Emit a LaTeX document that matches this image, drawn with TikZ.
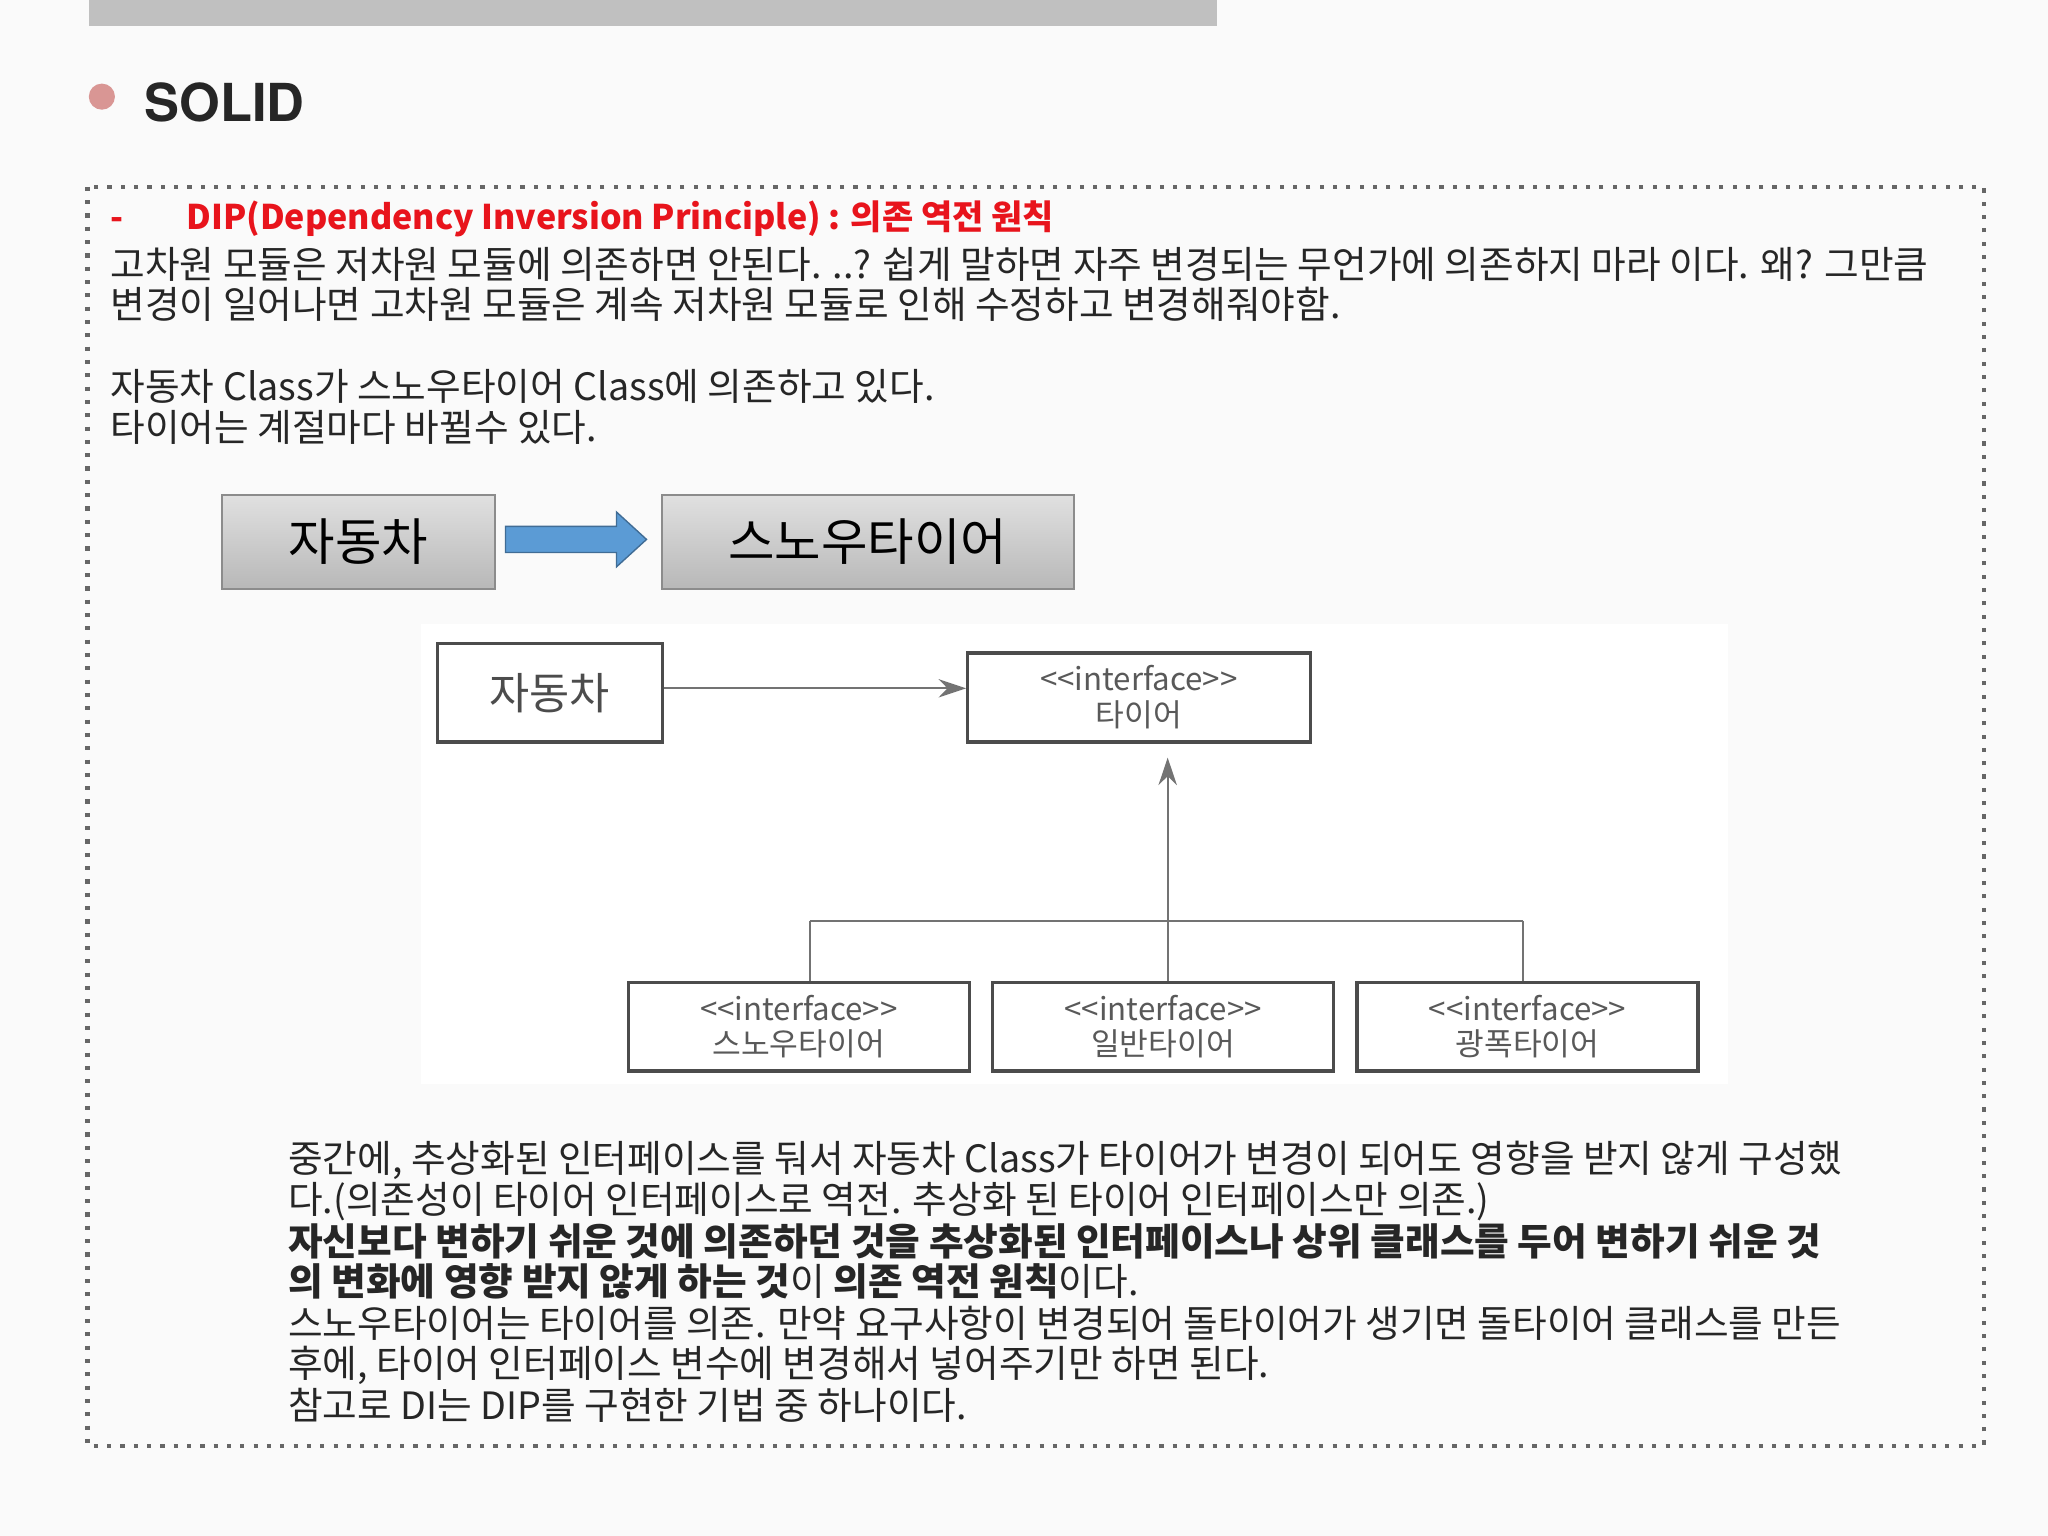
\documentclass[tikz,border=0pt]{standalone}
\usepackage{fontspec}
\setmainfont{Noto Sans CJK KR}
\newfontfamily\heros{TeX Gyre Heros}
\usetikzlibrary{arrows.meta}
\definecolor{barg}{HTML}{C0C0C0}
\definecolor{bul}{HTML}{D99694}
\definecolor{redt}{HTML}{E8141C}
\definecolor{arrb}{HTML}{5B9BD5}
\tikzset{
 txt/.style={anchor=base west,inner sep=0pt,font=\fontsize{8.2}{9}\selectfont,text=black!85},
 gbox/.style={draw=black!45,top color=black!12,bottom color=black!28,inner sep=0pt},
 uml/.style={draw=black!70,line width=0.7pt,fill=white,inner sep=0pt},
 umlt/.style={font=\fontsize{6.8}{7.8}\selectfont,text=black!65,align=center},
 conn/.style={draw=black!55,line width=0.4pt}
}
\begin{document}
\begin{tikzpicture}[x=0.01cm,y=-0.01cm]
\useasboundingbox (0,0) rectangle (1568,1176);
\fill[black!2] (0,0) rectangle (1568,1176);
\fill[barg] (68,0) rectangle (932,20);
\fill[bul] (78,74) circle (10);
\node[anchor=base west,inner sep=0pt,font=\heros\bfseries\fontsize{11.4}{12}\selectfont,text=black!85] (solid) at (110,93) {SOLID};
\draw[black!60,dotted,line width=0.9pt] (67,143) rectangle (1519,1107);
\node[txt,text=redt,font=\bfseries\fontsize{7.4}{8}\selectfont] (h0) at (84,176) {-};
\node[txt,text=redt,font=\bfseries\fontsize{7.4}{8}\selectfont] (h1) at (142,176) {DIP(Dependency Inversion Principle) : 의존 역전 원칙};
\node[txt] (l1) at (84,213) {고차원 모듈은 저차원 모듈에 의존하면 안된다. ..? 쉽게 말하면 자주 변경되는 무언가에 의존하지 마라 이다. 왜? 그만큼};
\node[txt] (l2) at (84,244) {변경이 일어나면 고차원 모듈은 계속 저차원 모듈로 인해 수정하고 변경해줘야함.};
\node[txt] (l3) at (84,307) {자동차 Class가 스노우타이어 Class에 의존하고 있다.};
\node[txt] (l4) at (84,338) {타이어는 계절마다 바뀔수 있다.};
% top boxes
\node[gbox,minimum width=2.09cm,minimum height=0.72cm,font=\fontsize{11}{12}\selectfont] (car1) at (274.5,415) {자동차};
\node[gbox,minimum width=3.15cm,minimum height=0.72cm,font=\fontsize{11}{12}\selectfont] (snow1) at (664.5,415) {스노우타이어};
\fill[arrb,draw=arrb!70!black,line width=0.3pt] (387,403)--(472,403)--(472,392)--(495,413)--(472,434)--(472,423)--(387,423)--cycle;
% uml
\fill[white] (322,478) rectangle (1323,830);
\node[uml,minimum width=1.72cm,minimum height=0.75cm,font=\fontsize{9.5}{10}\selectfont,text=black!70] (car2) at (421,530.5) {자동차};
\node[uml,minimum width=2.62cm,minimum height=0.68cm,umlt] (tire) at (872,534) {<{}<interface>{}>\\타이어};
\node[uml,minimum width=2.61cm,minimum height=0.68cm,umlt] (s1) at (611.5,786) {<{}<interface>{}>\\스노우타이어};
\node[uml,minimum width=2.61cm,minimum height=0.68cm,umlt] (s2) at (890.5,786) {<{}<interface>{}>\\일반타이어};
\node[uml,minimum width=2.61cm,minimum height=0.68cm,umlt] (s3) at (1169.5,786) {<{}<interface>{}>\\광폭타이어};
\draw[conn,-{Stealth[length=6pt,width=4pt]}] (car2.east|-0,527) -- (tire.west|-0,527);
\coordinate (jn) at (894,705);
\draw[conn,-{Stealth[length=6pt,width=4pt]}] (jn) -- (894,580);
\draw[conn] (620,705) -- (1166,705);
\draw[conn] (620,705) -- (s1.north-|620,0);
\draw[conn] (894,705) -- (s2.north-|894,0);
\draw[conn] (1166,705) -- (s3.north-|1166,0);
% bottom text
\node[txt] (b1) at (220,898) {중간에, 추상화된 인터페이스를 둬서 자동차 Class가 타이어가 변경이 되어도 영향을 받지 않게 구성했};
\node[txt] (b2) at (220,929) {다.(의존성이 타이어 인터페이스로 역전. 추상화 된 타이어 인터페이스만 의존.)};
\node[txt,font=\bfseries\fontsize{8.2}{9}\selectfont] (b3) at (220,961) {자신보다 변하기 쉬운 것에 의존하던 것을 추상화된 인터페이스나 상위 클래스를 두어 변하기 쉬운 것};
\node[txt] (b4) at (220,992) {\textbf{의 변화에 영향 받지 않게 하는 것}이 \textbf{의존 역전 원칙}이다.};
\node[txt] (b5) at (220,1024) {스노우타이어는 타이어를 의존. 만약 요구사항이 변경되어 돌타이어가 생기면 돌타이어 클래스를 만든};
\node[txt] (b6) at (220,1055) {후에, 타이어 인터페이스 변수에 변경해서 넣어주기만 하면 된다.};
\node[txt] (b7) at (220,1087) {참고로 DI는 DIP를 구현한 기법 중 하나이다.};
\end{tikzpicture}
\end{document}
